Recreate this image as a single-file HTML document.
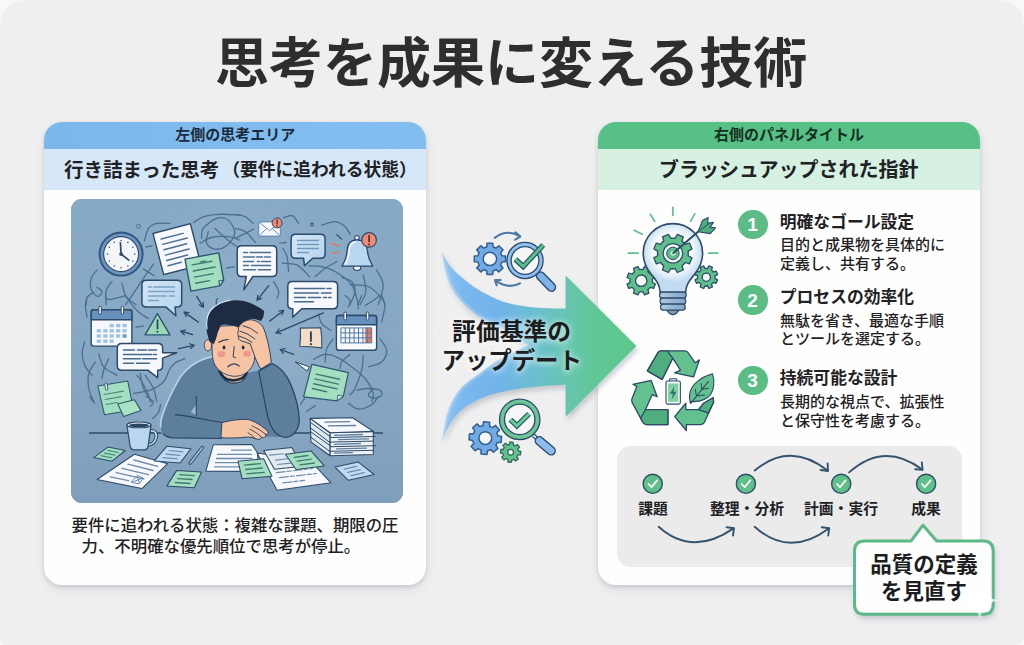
<!DOCTYPE html>
<html lang="ja">
<head>
<meta charset="utf-8">
<title>思考を成果に変える技術</title>
<style>
*{margin:0;padding:0;box-sizing:border-box}
html,body{width:1024px;height:645px;overflow:hidden;background:#f9f9fa;font-family:"Liberation Sans",sans-serif}
#stage{position:absolute;left:0;top:0;width:1024px;height:645px;background:#efeff0;border-radius:24px 24px 10px 6px;overflow:hidden}
.panel{position:absolute;top:122px;height:463px;width:382px;background:#fefefe;border-radius:18px;box-shadow:0 2px 4px rgba(60,70,90,.17),1px 5px 11px rgba(60,70,90,.08)}
.panel .clip{position:absolute;inset:0;border-radius:18px;overflow:hidden}
.band1{position:absolute;left:0;top:0;width:100%;height:27px}
.band2{position:absolute;left:0;top:27px;width:100%;height:41px}
#pl{left:44.3px} #pr{left:598px}
#pl .band1{background:linear-gradient(90deg,#7cb7ec,#81bcee 55%,#83bdef)}
#pl .band2{background:#d6e8f8}
#pr .band1{background:#57c086}
#pr .band2{background:#d6f1e1}
#illus{position:absolute;left:70.5px;top:198.5px;width:332px;height:304px;border-radius:11px;overflow:hidden;background:#86a3bf}
#flow{position:absolute;left:617px;top:446px;width:344.5px;height:120.5px;border-radius:14px;background:#ebebec}
.num{position:absolute;left:737.95px;width:29.7px;height:29.7px;border-radius:50%;background:#5bbd85}
svg.full{position:absolute;left:0;top:0;width:1024px;height:645px;overflow:visible}
.t{position:absolute;color:#1f2125;white-space:nowrap;line-height:1;overflow:visible;height:1.1em;pointer-events:none;font-family:"Liberation Sans","Noto Sans CJK JP",sans-serif}
</style>
</head>
<body>
<div id="stage">
<div class="panel" id="pl"><div class="clip"><div class="band1"></div><div class="band2"></div></div></div>
<div class="panel" id="pr"><div class="clip"><div class="band1"></div><div class="band2"></div></div></div>
<div id="illus">
<svg width="332" height="304" viewBox="70.5 198.5 332 304" style="display:block">
<defs>
<linearGradient id="lbg" x1="0" y1="0" x2="0" y2="1"><stop offset="0" stop-color="#87aac6"/><stop offset=".55" stop-color="#86a7c3"/><stop offset="1" stop-color="#7f9ebb"/></linearGradient>
<radialGradient id="lglow" cx="236" cy="340" r="150" gradientUnits="userSpaceOnUse"><stop offset="0" stop-color="#98b6d1" stop-opacity=".55"/><stop offset="1" stop-color="#98b6d1" stop-opacity="0"/></radialGradient>
<linearGradient id="lbub" x1="0" y1="0" x2="1" y2="1"><stop offset="0" stop-color="#d3e6f6"/><stop offset="1" stop-color="#b4d3ee"/></linearGradient>
<marker id="ah" viewBox="0 0 10 10" refX="8.5" refY="5" markerWidth="6.5" markerHeight="6.5" orient="auto" markerUnits="userSpaceOnUse"><path d="M2 1.2L8.5 5L2 8.8" fill="none" stroke="#2c4a69" stroke-width="1.9" stroke-linecap="round" stroke-linejoin="round"/></marker>
</defs>
<rect x="70" y="198" width="333" height="305" fill="url(#lbg)"/>
<rect x="70" y="198" width="333" height="305" fill="url(#lglow)"/>
<g fill="none" stroke="#3f6386" stroke-width="1.3" stroke-linecap="round" opacity=".82">
<path d="M143.9 240.3C144.6 238.2 145.9 230.8 148.0 227.9C150.1 225.0 152.7 223.7 156.3 222.9C159.9 222.1 167.4 222.9 169.6 222.9"/>
<path d="M192.8 222.1C194.5 221.1 198.4 217.7 202.8 216.3C207.2 214.9 213.3 214.1 219.4 213.8C225.5 213.5 236.0 214.5 239.3 214.6"/>
<path d="M199.5 242.8C201.4 241.8 206.4 238.1 211.1 237.0C215.8 235.9 223.0 235.8 227.7 236.2C232.4 236.6 237.4 238.9 239.3 239.5"/>
<path d="M207.8 231.2C207.5 233.1 205.0 239.9 206.1 242.8C207.2 245.7 211.1 248.2 214.4 248.6C217.7 249.0 222.7 247.9 226.0 245.3C229.3 242.7 234.0 237.2 234.3 232.9C234.6 228.6 230.7 222.1 227.7 219.6C224.7 217.1 220.2 216.5 216.1 217.9C211.9 219.3 205.3 224.6 202.8 227.9C200.3 231.2 201.4 236.2 201.1 237.8"/>
<path d="M214.4 227.9C216.9 230.1 225.2 237.9 229.4 241.2C233.6 244.5 237.7 246.7 239.3 247.8"/>
<path d="M96.6 269.4C95.6 270.8 91.8 274.4 90.8 277.7C89.8 281.0 89.7 286.3 90.8 289.3C91.9 292.3 95.6 295.6 97.4 295.9C99.2 296.2 101.6 292.5 101.5 291.0C101.4 289.5 97.4 287.5 96.6 286.8"/>
<path d="M111.5 281.0C110.5 282.5 106.7 286.2 105.7 290.1C104.7 294.0 105.7 301.9 105.7 304.2"/>
<path d="M121.5 282.7C122.2 284.9 123.2 292.3 125.6 295.9C127.9 299.5 133.9 302.8 135.6 304.2"/>
<path d="M153.0 263.6C151.3 266.0 146.9 272.0 143.0 277.7C139.1 283.4 132.8 293.2 129.8 297.6C126.8 302.0 125.6 303.1 124.8 304.2"/>
<path d="M143.0 268.6C144.8 269.7 152.0 274.1 153.8 275.2"/>
<path d="M85.8 304.2C85.9 303.0 85.4 298.9 86.6 296.8C87.8 294.7 92.1 292.6 93.2 291.8"/>
<path d="M145.5 246.5C146.5 246.3 150.7 245.5 151.7 245.3"/>
<path d="M226.0 267.7C227.3 267.4 232.7 266.4 234.0 266.1"/>
<path d="M235.0 213.8C236.7 214.2 242.1 214.8 245.0 216.3C247.9 217.8 251.2 221.8 252.4 222.9"/>
<path d="M235.0 227.9C236.7 228.4 241.7 228.8 245.0 231.2C248.3 233.5 253.2 240.2 254.9 242.0"/>
<path d="M235.0 237.8C236.4 237.1 240.2 235.2 243.3 233.7C246.4 232.2 251.6 229.5 253.3 228.7"/>
<path d="M283.1 217.1C284.6 216.8 289.8 214.4 292.3 215.4C294.8 216.4 297.1 221.7 298.1 222.9"/>
<path d="M321.3 224.6C323.5 224.0 330.7 220.9 334.6 221.2C338.5 221.5 342.1 224.1 344.6 226.2C347.1 228.3 348.7 232.4 349.5 233.7"/>
<path d="M282.3 247.8C283.0 249.2 285.5 252.2 286.5 256.1C287.5 260.0 287.8 268.5 288.1 271.0"/>
<path d="M281.5 262.7C284.0 263.0 291.8 262.2 296.4 264.4C301.0 266.6 306.8 274.1 308.9 276.0"/>
<path d="M314.7 276.0C316.4 274.6 321.0 270.2 324.6 267.7C328.2 265.2 334.4 262.2 336.3 261.1"/>
<path d="M308.0 265.2C310.2 265.4 316.9 265.1 321.3 266.1C325.7 267.1 329.6 268.0 334.6 271.0C339.6 274.0 347.3 278.8 351.2 284.3C355.1 289.8 356.7 300.9 357.8 304.2"/>
<path d="M376.1 269.4C377.2 271.9 382.4 278.5 382.7 284.3C383.0 290.1 378.6 300.9 377.8 304.2"/>
<path d="M362.8 274.4C363.2 277.2 365.9 286.0 365.3 291.0C364.8 296.0 360.5 302.0 359.5 304.2"/>
<path d="M341.2 276.9C342.9 277.6 349.0 278.6 351.2 281.0C353.4 283.4 354.8 287.1 354.5 291.0C354.2 294.9 350.3 302.0 349.5 304.2"/>
<path d="M349.5 284.3C352.6 284.6 362.5 283.8 367.8 286.0C373.1 288.2 378.3 294.6 381.1 297.6C383.9 300.6 383.8 303.1 384.4 304.2"/>
<path d="M273.2 281.0C274.0 282.7 277.6 288.2 278.2 291.0C278.8 293.8 276.8 296.5 276.5 297.6"/>
<path d="M279.0 242.8C280.1 242.7 284.5 242.1 285.6 242.0"/>
<path d="M86.6 296.7C86.3 298.1 84.9 301.7 84.9 305.0C84.9 308.3 86.3 314.7 86.6 316.6"/>
<path d="M124.8 295.0C126.7 297.5 132.5 306.0 136.4 309.9C140.3 313.8 146.1 316.8 148.0 318.2"/>
<path d="M105.0 296.0C105.5 296.5 104.8 299.1 108.0 299.0C111.2 298.9 121.3 296.1 124.0 295.5"/>
<path d="M135.6 326.5C136.8 326.4 141.8 325.8 143.0 325.7"/>
<path d="M84.1 341.5C83.7 343.4 81.5 349.0 81.6 353.1C81.7 357.2 83.2 362.8 84.9 366.4C86.6 370.0 90.5 373.3 91.6 374.7"/>
<path d="M98.2 353.1C99.0 355.3 100.2 362.8 103.2 366.4C106.2 370.0 114.3 373.3 116.5 374.7"/>
<path d="M94.9 361.4C93.8 363.3 89.4 368.6 88.3 373.0C87.2 377.4 87.5 383.3 88.3 388.0C89.1 392.7 92.4 399.0 93.2 401.2"/>
<path d="M108.2 358.1C107.4 360.0 104.3 366.4 103.2 369.7C102.1 373.0 101.8 376.6 101.5 378.0"/>
<path d="M139.7 373.0C140.2 375.5 141.1 383.3 143.0 388.0C144.9 392.7 149.9 399.0 151.3 401.2"/>
<path d="M136.4 374.7C137.2 375.8 139.5 378.0 141.4 381.3C143.3 384.6 146.6 391.3 148.0 394.6C149.4 397.9 149.4 400.1 149.7 401.2"/>
<path d="M133.1 392.9C135.9 392.3 144.7 391.5 149.7 389.6C154.7 387.7 159.7 384.9 163.0 381.3C166.3 377.7 167.4 371.3 169.6 368.0C171.8 364.7 173.7 363.0 176.2 361.4C178.7 359.8 183.1 358.7 184.5 358.1"/>
<path d="M156.3 401.2C155.8 399.0 154.9 392.4 153.0 388.0C151.1 383.6 146.1 376.9 144.7 374.7"/>
<path d="M344.6 295.0C345.4 295.8 348.9 298.1 349.5 300.0C350.1 301.9 348.2 305.5 347.9 306.6"/>
<path d="M361.2 295.0C360.6 296.4 358.4 301.1 357.8 303.3C357.2 305.5 357.8 307.5 357.8 308.3"/>
<path d="M381.1 295.0C381.7 296.7 384.4 300.6 384.4 305.0C384.4 309.4 381.7 318.8 381.1 321.6"/>
<path d="M364.5 305.0C365.9 304.2 370.3 301.7 372.8 300.0C375.3 298.3 378.3 295.8 379.4 295.0"/>
<path d="M318.0 313.3C318.6 314.9 319.2 320.4 321.3 323.2C323.4 326.0 329.0 328.8 330.5 329.9"/>
<path d="M332.9 338.2C331.8 339.9 327.7 344.2 326.3 348.1C324.9 352.0 324.9 359.2 324.6 361.4"/>
<path d="M313.0 358.9C314.9 358.1 320.5 354.2 324.6 353.9C328.8 353.6 333.5 355.2 337.9 357.3C342.3 359.4 346.8 362.9 351.2 366.4C355.6 369.8 360.9 373.6 364.5 378.0C368.1 382.4 371.7 389.0 372.8 392.9C373.9 396.8 371.4 399.8 371.1 401.2"/>
<path d="M379.4 338.2C380.5 340.1 385.8 345.9 386.1 349.8C386.4 353.7 384.2 358.6 381.1 361.4C378.1 364.2 370.0 365.6 367.8 366.4"/>
<path d="M349.5 353.9C348.1 355.1 342.8 359.0 341.2 361.4C339.6 363.8 339.9 366.9 339.6 368.0"/>
<path d="M362.8 354.8C362.5 357.3 362.6 364.2 361.2 369.7C359.8 375.2 356.4 383.9 354.5 388.0C352.6 392.1 350.3 393.5 349.5 394.6"/>
<path d="M356.2 389.6C358.1 389.3 363.9 388.0 367.8 388.0C371.7 388.0 377.2 388.5 379.4 389.6C381.6 390.7 381.9 393.2 381.1 394.6C380.3 396.0 376.6 397.9 374.4 397.9C372.2 397.9 368.1 396.2 367.8 394.6C367.5 393.0 372.0 389.1 372.8 388.0"/>
<path d="M89.1 396.0C89.9 397.1 93.3 401.5 94.1 402.6"/>
<path d="M145.5 396.0C146.8 396.8 152.3 399.3 153.0 401.0C153.7 402.7 150.2 405.2 149.7 406.0"/>
<path d="M306.4 410.9C307.8 409.9 313.3 406.1 314.7 405.1"/>
<path d="M347.9 402.6C349.5 403.6 353.9 408.2 357.8 408.5C361.7 408.8 367.8 406.4 371.1 404.3C374.4 402.2 376.7 397.4 377.8 396.0"/>
<path d="M160.0 404.0C159.7 405.3 159.3 409.7 158.0 412.0C156.7 414.3 153.0 417.0 152.0 418.0"/>
<path d="M300.0 404.0C300.7 403.0 303.3 399.0 304.0 398.0"/>
</g>
<circle cx="138" cy="225.7" r="2" fill="none" stroke="#4f7497" stroke-width="1"/>
<circle cx="311.5" cy="224" r="1.5" fill="none" stroke="#2c4a69" stroke-width="1"/>
<circle cx="120.6" cy="253.6" r="22.5" fill="#2f5480"/>
<circle cx="120.6" cy="253.6" r="20.6" fill="#6f96bd"/>
<circle cx="120.6" cy="253.6" r="18" fill="#2e4d70"/>
<circle cx="120.6" cy="253.6" r="16.9" fill="#f3f5f8"/>
<circle cx="120.6" cy="240.0" r=".75" fill="#2c4a69"/>
<circle cx="127.4" cy="241.8" r=".75" fill="#2c4a69"/>
<circle cx="132.4" cy="246.8" r=".75" fill="#2c4a69"/>
<circle cx="134.2" cy="253.6" r=".75" fill="#2c4a69"/>
<circle cx="132.4" cy="260.4" r=".75" fill="#2c4a69"/>
<circle cx="127.4" cy="265.4" r=".75" fill="#2c4a69"/>
<circle cx="120.6" cy="267.2" r=".75" fill="#2c4a69"/>
<circle cx="113.8" cy="265.4" r=".75" fill="#2c4a69"/>
<circle cx="108.8" cy="260.4" r=".75" fill="#2c4a69"/>
<circle cx="107.0" cy="253.6" r=".75" fill="#2c4a69"/>
<circle cx="108.8" cy="246.8" r=".75" fill="#2c4a69"/>
<circle cx="113.8" cy="241.8" r=".75" fill="#2c4a69"/>
<path d="M120.6 253.6L119.9 242.3M120.6 253.6L128.3 259.6" stroke="#2c4a69" stroke-width="1.7" stroke-linecap="round" fill="none"/>
<circle cx="120.6" cy="253.6" r="1.9" fill="#2c4a69"/>
<g transform="translate(152.5 232.9) rotate(-14.5) skewX(0.0)"><rect width="38.6" height="42.6" fill="#f6f8fb" stroke="#2c4a69" stroke-width="1.4" stroke-linejoin="round"/><g stroke="#4d7090" stroke-width="1.5" stroke-linecap="round"><path d="M6.5 7.5H29.1"/><path d="M6.5 13.0H32.1"/><path d="M6.5 18.5H30.1"/><path d="M6.5 24.1H31.1"/><path d="M6.5 29.6H28.1"/><path d="M6.5 35.1H20.1"/></g></g>
<g transform="translate(184.5 258.6) rotate(-10.4) skewX(0.0)"><path d="M0 0H34.3V27.6L29.3 32.6H0Z" fill="#a4dec0" stroke="#2f5671" stroke-width="1.4" stroke-linejoin="round"/><path d="M34.3 27.6L29.3 27.6L29.3 32.6Z" fill="#c4e8d2" stroke="#2f5671" stroke-width="1.12" stroke-linejoin="round"/><g stroke="#3d7a72" stroke-width="1.4" stroke-linecap="round"><path d="M6.0 7.0H26.3"/><path d="M6.0 13.2H28.3"/><path d="M6.0 19.4H25.3"/><path d="M6.0 25.6H20.3"/></g><path d="M14.5 5.5H20" stroke="#3d7a72" stroke-width="1.4" stroke-linecap="round"/></g>
<path d="M145.9 279.7H176.7Q181.2 279.7 181.2 284.2V302.1Q181.2 306.6 176.7 306.6H174.6L175.4 315.3L165.5 306.6H145.9Q141.4 306.6 141.4 302.1V284.2Q141.4 279.7 145.9 279.7Z" fill="url(#lbub)" stroke="#2c4a69" stroke-width="1.5" stroke-linejoin="round"/>
<g stroke="#7ea3c6" stroke-width="1.3" stroke-linecap="round"><path d="M148.0 286.5H151.0"/><path d="M153.0 286.5H174.0"/><path d="M148.0 291.0H174.0"/><path d="M148.0 295.5H166.0"/><path d="M169.0 295.5H174.0"/><path d="M148.0 300.0H158.0"/></g>
<rect x="258.2" y="221.4" width="21.6" height="14.2" rx="1" fill="#f6f8fb" stroke="#5b84ad" stroke-width="1"/>
<path d="M258.6 221.8L269 230.2L279.4 221.8M258.6 235.2L266.2 228M279.4 235.2L271.8 228" fill="none" stroke="#5b84ad" stroke-width=".9"/>
<circle cx="276.6" cy="222.4" r="5" fill="#ee8b78" stroke="#2c4a69" stroke-width="1"/>
<path d="M276.6 219.3V223.4" stroke="#5a2b28" stroke-width="1.3" stroke-linecap="round"/><circle cx="276.6" cy="225.4" r=".75" fill="#5a2b28"/>
<path d="M295.1 233.7H320.1Q324.6 233.7 324.6 238.2V253.3Q324.6 257.8 320.1 257.8H312.2L303.9 265.2L303.1 257.8H295.1Q290.6 257.8 290.6 253.3V238.2Q290.6 233.7 295.1 233.7Z" fill="url(#lbub)" stroke="#2c4a69" stroke-width="1.5" stroke-linejoin="round"/>
<g stroke="#7198be" stroke-width="1.3" stroke-linecap="round"><path d="M297.0 240.0H298.5"/><path d="M300.0 240.0H318.0"/><path d="M297.0 244.0H318.0"/><path d="M297.0 248.0H318.0"/><path d="M297.0 252.0H308.0"/></g>
<path d="M241.2 245.3H271.7Q276.2 245.3 276.2 249.8V271.5Q276.2 276.0 271.7 276.0H252.4L243.3 289.3L245.8 276.0H241.2Q236.7 276.0 236.7 271.5V249.8Q236.7 245.3 241.2 245.3Z" fill="#f6f8fb" stroke="#2c4a69" stroke-width="1.5" stroke-linejoin="round"/>
<g stroke="#4e7294" stroke-width="1.5" stroke-linecap="round"><path d="M243.0 252.0H247.0"/><path d="M249.5 252.0H270.0"/><path d="M243.0 256.5H254.0"/><path d="M256.0 256.5H262.0"/><path d="M264.0 256.5H270.0"/><path d="M243.0 261.0H253.0"/><path d="M257.0 261.0H259.0"/><path d="M261.0 261.0H270.0"/><path d="M243.0 265.0H248.0"/><path d="M251.0 265.0H270.0"/><path d="M243.0 269.3H255.0"/><path d="M258.0 269.3H270.0"/></g>
<circle cx="356.4" cy="237.3" r="2.3" fill="#e9f2fa" stroke="#2c4a69" stroke-width="1.1"/>
<ellipse cx="356.6" cy="267.2" rx="3.6" ry="2.7" fill="#f3f7fb" stroke="#2c4a69" stroke-width="1.1"/>
<path d="M356.4 239.3C349.6 239.3 346.9 244.4 346.6 250.4C346.3 256.4 344.8 260.4 341.5 265.6H372.3C369 260.4 367.4 256.4 367 250.4C366.6 244.4 363.4 239.3 356.4 239.3Z" fill="#b9d7f0" stroke="#2c4a69" stroke-width="1.3" stroke-linejoin="round"/>
<path d="M355 241.2C350.4 242 348.8 246 348.5 250.6C348.2 256 347.2 259.6 344.8 263.6" fill="none" stroke="#f2f8fd" stroke-width="1.5" stroke-linecap="round"/>
<circle cx="368.6" cy="239.4" r="7.3" fill="#ee8b78" stroke="#2c4a69" stroke-width="1.2"/>
<path d="M368.6 235.1V241.2" stroke="#4a2a30" stroke-width="1.6" stroke-linecap="round"/><circle cx="368.6" cy="244" r=".95" fill="#4a2a30"/>
<path d="M330.5 243.2L337.9 245.3M332.1 252.8L337.9 252" stroke="#e07b5c" stroke-width="1.6" stroke-linecap="round"/>
<path d="M336.3 234.2L341.2 238.7" stroke="#3a5878" stroke-width="1.2" stroke-linecap="round"/>
<path d="M291.8 281.0H332.6Q337.1 281.0 337.1 285.5V303.8Q337.1 308.3 332.6 308.3H301.4L292.3 316.6L292.3 308.3H291.8Q287.3 308.3 287.3 303.8V285.5Q287.3 281.0 291.8 281.0Z" fill="#f6f8fb" stroke="#2c4a69" stroke-width="1.5" stroke-linejoin="round"/>
<g stroke="#456a8c" stroke-width="1.6" stroke-linecap="round"><path d="M294.0 288.0H324.0"/><path d="M326.5 288.0H330.5"/><path d="M294.0 292.5H318.0"/><path d="M321.0 292.5H330.5"/><path d="M294.0 297.0H305.0"/><path d="M308.0 297.0H320.0"/><path d="M323.0 297.0H326.0"/><path d="M328.0 297.0H330.5"/><path d="M294.0 301.2H313.0"/></g>
<g stroke="#2c4a69" stroke-width="1.3" stroke-linecap="round" fill="none">
<path d="M268.2 285.1L256.6 299.6" marker-end="url(#ah)"/>
<path d="M196.2 295.8L202.8 306.6" marker-end="url(#ah)"/>
<path d="M197.8 321.6L183.7 311.6" marker-end="url(#ah)"/>
<path d="M192.0 334.0L180.4 330.7" marker-end="url(#ah)"/>
<path d="M177.9 348.1L193.7 344.8" marker-end="url(#ah)"/>
<path d="M269.0 320.7L283.1 309.9" marker-end="url(#ah)"/>
<path d="M323.0 312.4L275.7 332.4" marker-end="url(#ah)"/>
<path d="M293.1 353.9L279.8 349.0" marker-end="url(#ah)"/>
</g>
<rect x="90.7" y="309.3" width="40.7" height="36.3" rx="2.5" fill="#f6f8fb" stroke="#2c4a69" stroke-width="1.4"/><path d="M90.7 319.2V311.8Q90.7 309.3 93.2 309.3H128.9Q131.4 309.3 131.4 311.8V319.2Z" fill="#6690bd" stroke="#2c4a69" stroke-width="1.4"/><rect x="98.3" y="305.8" width="2.6" height="8" rx="1.3" fill="#f3f6fa" stroke="#2c4a69" stroke-width="1"/><rect x="120.6" y="305.8" width="2.6" height="8" rx="1.3" fill="#f3f6fa" stroke="#2c4a69" stroke-width="1"/><rect x="109.1" y="323.4" width="4.2" height="3.4" fill="#9fc3e3"/><rect x="115.6" y="323.4" width="4.2" height="3.4" fill="#9fc3e3"/><rect x="122.0" y="323.4" width="4.2" height="3.4" fill="#9fc3e3"/><rect x="96.2" y="328.6" width="4.2" height="3.4" fill="#9fc3e3"/><rect x="102.7" y="328.6" width="4.2" height="3.4" fill="#9fc3e3"/><rect x="109.1" y="328.6" width="4.2" height="3.4" fill="#9fc3e3"/><rect x="115.6" y="328.6" width="4.2" height="3.4" fill="#9fc3e3"/><rect x="122.0" y="328.6" width="4.2" height="3.4" fill="#9fc3e3"/><rect x="96.2" y="333.8" width="4.2" height="3.4" fill="#9fc3e3"/><rect x="102.7" y="333.8" width="4.2" height="3.4" fill="#9fc3e3"/><rect x="109.1" y="333.8" width="4.2" height="3.4" fill="#9fc3e3"/><rect x="115.6" y="333.8" width="4.2" height="3.4" fill="#9fc3e3"/><rect x="122.0" y="333.8" width="4.2" height="3.4" fill="#6f9bc6"/><rect x="96.2" y="339.0" width="4.2" height="3.4" fill="#9fc3e3"/><rect x="102.7" y="339.0" width="4.2" height="3.4" fill="#9fc3e3"/><rect x="109.1" y="339.0" width="4.2" height="3.4" fill="#9fc3e3"/>
<path d="M156.9 313.2L169.4 334.4H144.6Z" fill="#98d8b4" stroke="#2f5671" stroke-width="1.4" stroke-linejoin="round"/>
<path d="M157 319.6V328" stroke="#24445f" stroke-width="1.7" stroke-linecap="round"/><circle cx="157" cy="331.2" r="1" fill="#24445f"/>
<path d="M121.3 343.1H157.6Q162.1 343.1 162.1 347.6V352.2L176.2 352.3L162.1 357.6V365.2Q162.1 369.7 157.6 369.7H157.2L157.2 377.2L147.2 369.7H121.3Q116.8 369.7 116.8 365.2V347.6Q116.8 343.1 121.3 343.1Z" fill="#f6f8fb" stroke="#2c4a69" stroke-width="1.5" stroke-linejoin="round"/>
<g stroke="#456a8c" stroke-width="1.5" stroke-linecap="round"><path d="M123.0 349.5H134.0"/><path d="M137.0 349.5H146.0"/><path d="M148.0 349.5H156.0"/><path d="M123.0 354.0H151.0"/><path d="M153.0 354.0H156.0"/><path d="M123.0 358.3H140.0"/><path d="M142.0 358.3H156.0"/><path d="M123.0 362.8H133.0"/><path d="M136.0 362.8H149.0"/></g>
<path d="M97.4 385.5L127.3 380.5L133 409.3L104 414.3Z" fill="#a4dec0" stroke="#2f5671" stroke-width="1.1" stroke-linejoin="round"/>
<g stroke="#4a8c7c" stroke-width="1.2" stroke-linecap="round"><path d="M103.5 394L123 390.6M104.6 399L121 396.2M105.6 404L117 402"/></g>
<rect x="104.6" y="382.6" width="2.4" height="7.2" rx="1.2" transform="rotate(-10 105.8 386)" fill="#f3f6fa" stroke="#2f5671" stroke-width=".9"/>
<path d="M117.3 403.5L133.9 399.3L140.6 410.1L123.1 415.9Z" fill="#a9e1c4" stroke="#2f5671" stroke-width="1.1" stroke-linejoin="round"/>
<rect x="335.9" y="315.0" width="40.2" height="34.8" rx="2.5" fill="#f6f8fb" stroke="#2c4a69" stroke-width="1.4"/><path d="M335.9 324.2V317.5Q335.9 315.0 338.4 315.0H373.6Q376.1 315.0 376.1 317.5V324.2Z" fill="#6690bd" stroke="#2c4a69" stroke-width="1.4"/><rect x="343.4" y="311.5" width="2.6" height="8" rx="1.3" fill="#f3f6fa" stroke="#2c4a69" stroke-width="1"/><rect x="365.8" y="311.5" width="2.6" height="8" rx="1.3" fill="#f3f6fa" stroke="#2c4a69" stroke-width="1"/><rect x="340.4" y="327.4" width="30.7" height="15" fill="#f6f8fb"/><rect x="364.6" y="327.2" width="6.6" height="15.2" fill="#e8755f"/><g stroke="#4f7aa6" stroke-width="1" fill="none"><path d="M340.4 327.4V342.4"/><path d="M344.8 327.4V342.4"/><path d="M349.2 327.4V342.4"/><path d="M353.6 327.4V342.4"/><path d="M358.0 327.4V342.4"/><path d="M362.4 327.4V342.4"/><path d="M366.8 327.4V342.4"/><path d="M371.2 327.4V342.4"/><path d="M340.4 327.4H371.2"/><path d="M340.4 332.4H371.2"/><path d="M340.4 337.4H371.2"/><path d="M340.4 342.4H371.2"/></g>
<path d="M299.8 327.6L320.2 327.2Q321.6 337 321.3 347.4Q310 346.2 299.2 345.8Q300.6 336 299.8 327.6Z" fill="#f3ddc6" stroke="#2c4a69" stroke-width="1.1" stroke-linejoin="round"/>
<path d="M310.4 331.6V340.4" stroke="#24405c" stroke-width="1.9" stroke-linecap="round"/><circle cx="310.4" cy="343.7" r="1.1" fill="#24405c"/>
<path d="M294.8 361.4L309 366.4L306.6 370.6Z" fill="#f6f8fb" stroke="#2c4a69" stroke-width="1" stroke-linejoin="round"/>
<path d="M311.4 363.9L347.9 372.2L342.8 395.8L336.4 400.4L303.1 396.3Z" fill="#a4dec0" stroke="#2f5671" stroke-width="1.2" stroke-linejoin="round"/>
<path d="M342.8 395.8L337.6 394.4L336.4 400.4Z" fill="#d6efe0" stroke="#2f5671" stroke-width=".9" stroke-linejoin="round"/>
<g stroke="#3d7a72" stroke-width="1.4" stroke-linecap="round"><path d="M315.6 373.6L339 378.8M314.4 378.4L337.8 383.6M313.2 383.2L336.6 388.4M312 388L326 391.2"/></g>
<path d="M89 432.5H382" stroke="#2c4a69" stroke-width="1.3" stroke-linecap="round"/>
<g stroke="#2c4a69" stroke-width="1.1" stroke-linejoin="round">
<path d="M309.7 417.9L329.6 432.2V455.2L310.4 441.4Z" fill="#dfe7ef"/>
<path d="M329.6 432.2L372.8 430.9V454L329.6 455.2Z" fill="#eef2f6"/>
<path d="M309.7 417.9L352 417.2L372.8 430.9L329.6 432.2Z" fill="#f6f8fb"/>
</g>
<g stroke="#2c4a69" stroke-width="1" fill="none" stroke-linecap="round">
<path d="M330.8 437.0L374.6 436.0"/>
<path d="M310.6 422.4L330.8 437.0"/>
<path d="M328.8 441.6L372.6 440.6"/>
<path d="M309.6 427.0L328.8 441.6"/>
<path d="M331.0 446.2L374.8 445.2"/>
<path d="M310.7 431.6L331.0 446.2"/>
<path d="M329.0 450.8L372.8 449.8"/>
<path d="M309.7 436.2L329.0 450.8"/>
</g>
<g stroke="#5d7f9f" stroke-width="1.3" stroke-linecap="round"><path d="M324.5 421.6L349 421.2M328 425.4L355 425M334 434.8L362 434M338 439.2L368 438.4M334 443.8L360 443M336 448.4L366 447.6M334 452.6L352 452.2"/></g>
<path d="M211.6 355.9C199.5 358.4 187.9 365.5 179.8 376.4C172.8 388 165.4 403 161.2 417C159.4 424 159.6 430 162.6 434.6L286 436.4C296 431 299.4 420 298.4 414C296.6 396 291 380 284.5 372.5C280 367 276 364.2 271.5 362.4L258.4 370.2L245.5 372.4L219 371Z" fill="#5b7f9d"/>
<path d="M212.2 356.2C199.5 358.6 187.9 365.7 179.8 376.6C172.8 388.2 165.4 403 161.2 417C159.6 423 159.4 428.6 162.4 433" fill="none" stroke="#b9d1e8" stroke-width="1.7" stroke-linecap="round"/>
<path d="M190.2 411.5L196 404V415Z" fill="#9db8d3"/>
<path d="M195.8 396V415" stroke="#2a4464" stroke-width="1.1" stroke-linecap="round"/>
<path d="M258.2 370.4L272 363.2C278 365.6 285.4 372.6 290.4 384.4C295.4 396.6 298.8 410.6 298.8 419.6C298.6 428.8 293 436.2 285.6 436.8C276.4 436.8 270.6 428.6 267.4 416.6C264.2 402.6 261.2 384.6 258.2 370.4Z" fill="#5b7f9d" stroke="#2a4464" stroke-width="1.2" stroke-linejoin="round"/>
<path d="M221 370Q222.6 378.6 227.6 381Q233.5 383.6 240.2 380.8Q244.8 378.2 246 370Z" fill="#f6c3a3"/>
<path d="M219 370.6Q221.8 377.6 228.4 379.4Q235.6 380.8 241.6 377.6Q245.2 375.4 246.2 371.6" fill="none" stroke="#1d2c43" stroke-width="2.6" stroke-linecap="round"/>
<path d="M222.2 377.4Q224.2 380.4 227.6 381.4Q233.5 384 240.2 381.2Q243.6 379.6 245.2 376.2" fill="none" stroke="#2a4464" stroke-width="1.1"/>
<ellipse cx="207.4" cy="344.8" rx="3.7" ry="5.6" fill="#f6c3a3" stroke="#2a4464" stroke-width=".9"/>
<path d="M212.6 326C211.4 338 211.2 352 212.4 358.6C214 368 222 374.2 232.6 375.8C243 376.4 251 370 253.6 361C255 352 254.6 336 254.2 324Z" fill="#f6c3a3" stroke="#2a4464" stroke-width=".9" stroke-linejoin="round"/>
<ellipse cx="220.8" cy="353.6" rx="4" ry="3.1" fill="#f0918b" opacity=".9"/>
<ellipse cx="246.6" cy="353.2" rx="3.8" ry="3" fill="#f0918b" opacity=".9"/>
<ellipse cx="223.5" cy="347" rx="1.35" ry="1.9" fill="#1d2c43"/>
<ellipse cx="242.7" cy="347" rx="1.35" ry="1.9" fill="#1d2c43"/>
<path d="M218.4 341.8Q222.6 339.2 227.6 339" fill="none" stroke="#1d2c43" stroke-width="1.2" stroke-linecap="round"/>
<path d="M233.7 346L232.6 356.3L235 357" fill="none" stroke="#2a4464" stroke-width="1" stroke-linecap="round" stroke-linejoin="round"/>
<path d="M227.4 366.2Q233 361 238.6 365.5" fill="none" stroke="#2a4464" stroke-width="1.3" stroke-linecap="round"/>
<path d="M213.4 343.4L209.4 341.6Q204.6 330 206 319.6Q209.6 307.4 220 302.4Q232 298 243.6 300.6Q255 303.6 263.6 310.4Q264.2 315.4 260.6 320.6Q254.8 318 249.6 318.4L238 327Q229.6 323.2 220.6 324.4Q217 331 215.8 337.4Z" fill="#1d2c43"/>
<path d="M206.6 328.4Q204.8 318 209.6 310.4Q216.4 301.8 229.6 299.8" fill="none" stroke="#e4edf6" stroke-width="1.1" stroke-linecap="round"/>
<path d="M215.6 303.6Q215 300 217 297.6" fill="none" stroke="#2c4a69" stroke-width="1" stroke-linecap="round"/>
<path d="M260.2 368.6L270.8 362C269.4 348 266 334.8 263 327.4C260.4 322.6 255.8 320 250.6 319.2C246 319.2 242 321.5 239.5 324.6C237.8 326.8 237.6 328.4 238.1 329.9C237 331.8 237 333.8 237.9 335.5C237.6 338.2 238.8 339.8 240.8 340.4L249.7 343.3C252.3 350.8 254.4 356.4 256 360.4C257.4 363.6 258.8 366.2 260.2 368.6Z" fill="#f6c3a3" stroke="#2a4464" stroke-width="1" stroke-linejoin="round"/>
<path d="M242.4 325.2Q250.6 326.8 257.2 332.8M239.4 330.6Q247.4 332.6 254.4 338.4M238.8 335.6Q245.6 337.6 251.6 341.8" fill="none" stroke="#2a4464" stroke-width="1" stroke-linecap="round"/>
<path d="M175 414.4C190 415.6 206 419.6 222.8 422.4L221 438L172 437.4C165 437 160.6 433.4 159.9 427.6Z" fill="#5b7f9d"/>
<path d="M175 414.4C190 415.6 206 419.6 222.8 422.4M221 438L172 437.4C167.6 437.2 164.4 435.6 162.6 433.2" fill="none" stroke="#2a4464" stroke-width="1.2" stroke-linecap="round"/>
<path d="M221.4 422C230 420 240 418.2 247.6 419C254 420.4 261 425 266.6 430.2C268.6 432.4 267.6 434.4 265 433.6C266 436.4 263.6 437.8 261 436.6C260.6 439 257.8 439.6 255 438.2C252 437 249 436.4 246 436.6C238 437.6 229 437.8 220.4 437.2Z" fill="#f6c3a3" stroke="#2a4464" stroke-width="1" stroke-linejoin="round"/>
<path d="M251.6 425.4Q258.6 428.2 265 433.6M249.4 428.6Q255.6 431.6 261 436.6M247.6 432.2Q251.6 434.6 255 438.2" fill="none" stroke="#2a4464" stroke-width=".9" stroke-linecap="round"/>
<path d="M150 430.4C155 429.6 156.6 433.6 155.6 437.4C154.4 441.6 151 444 148.2 444.4" fill="none" stroke="#2c4a69" stroke-width="3.6" stroke-linecap="round"/>
<path d="M150 430.4C155 429.6 156.6 433.6 155.6 437.4C154.4 441.6 151 444 148.2 444.4" fill="none" stroke="#b9d6ee" stroke-width="1.7" stroke-linecap="round"/>
<path d="M126.4 424.6L129.6 445.6Q130 449.2 134 449.4H143.4Q147.2 449.2 147.6 445.6L150.5 424.6Z" fill="#b9d6ee" stroke="#2c4a69" stroke-width="1.2" stroke-linejoin="round"/>
<ellipse cx="138.45" cy="424.4" rx="12.1" ry="2.9" fill="#e8f1f9" stroke="#2c4a69" stroke-width="1.1"/>
<ellipse cx="138.45" cy="424.9" rx="9.9" ry="1.9" fill="#2a4464"/>
<path d="M107.4 446.6L124.8 450.0L111.5 460.7L93.2 457.1Z" fill="#a4dec0" stroke="#2c4a69" stroke-width="1.05" stroke-linejoin="round"/>
<g stroke="#4a8c7c" stroke-width="1.2" stroke-linecap="round"><path d="M107.4 449.9L118.0 452.0"/><path d="M103.9 452.6L114.6 454.7"/><path d="M100.4 455.2L111.2 457.3"/></g>
<path d="M133.9 453.8L167.1 463.2L141.4 488.1L96.6 479.0Z" fill="#f6f8fb" stroke="#2c4a69" stroke-width="1.05" stroke-linejoin="round"/>
<g stroke="#6c8cab" stroke-width="1.3" stroke-linecap="round"><path d="M133.3 459.5L157.2 465.9"/><path d="M127.4 463.7L152.6 470.0"/><path d="M121.5 467.9L148.0 474.2"/><path d="M115.6 472.1L143.4 478.3"/><path d="M109.7 476.3L128.1 480.2"/></g>
<path d="M130.6 481.8L137 474.8L142.6 477.6L138.6 483.4ZM132 481.6L141 478M136.6 475.6L139 483" fill="none" stroke="#5b82aa" stroke-width=".9" stroke-linejoin="round"/>
<path d="M166.3 445.8L190.4 448.3L179.6 462.4L153.8 460.4Z" fill="#c0daf1" stroke="#2c4a69" stroke-width="1.05" stroke-linejoin="round"/>
<g stroke="#6c8cab" stroke-width="1.2" stroke-linecap="round"><path d="M168.6 450.0L182.3 451.3"/><path d="M165.5 453.6L179.5 454.9"/><path d="M162.5 457.2L176.7 458.4"/></g>
<path d="M189.6 462.6L201.8 447" stroke="#2c4a69" stroke-width="3.4" stroke-linecap="round"/>
<path d="M189.8 462.4L201.6 447.2" stroke="#a9c3dc" stroke-width="1.6" stroke-linecap="round"/>
<path d="M176.2 469.9L201.1 471.5L193.7 487.3L166.3 485.6Z" fill="#a4dec0" stroke="#2c4a69" stroke-width="1.05" stroke-linejoin="round"/>
<g stroke="#3d7a72" stroke-width="1.3" stroke-linecap="round"><path d="M179.3 474.2L193.6 475.1"/><path d="M177.0 478.1L191.6 479.0"/><path d="M174.7 482.0L189.7 483.0"/></g>
<path d="M212.8 444.3L251.4 444.1L256.8 452.0L258.6 470.9L205.3 470.7Z" fill="#f6f8fb" stroke="#2c4a69" stroke-width="1.05" stroke-linejoin="round"/>
<g stroke="#6c8cab" stroke-width="1.3" stroke-linecap="round"><path d="M231 449.6H251M217 453.8H251M216 458H251.6M215 462.2H238M214 466.4H239"/></g>
<path d="M256.6 452.6L310.0 460.5L330.5 482.3L276.5 489.8Z" fill="#f6f8fb" stroke="#2c4a69" stroke-width="1.05" stroke-linejoin="round"/>
<g stroke="#6c8cab" stroke-width="1.2" stroke-linecap="round" stroke-dasharray="9 2 4 2"><path d="M275.8 472.2L312 468M279 477.2L316 473M282.4 482.4L304 479.8"/></g>
<path d="M263.2 450.0L291.4 447.1L301.4 465.7L274.0 468.7Z" fill="#e1e9f1" stroke="#2c4a69" stroke-width="1.05" stroke-linejoin="round"/>
<g stroke="#6c8cab" stroke-width="1.1" stroke-linecap="round"><path d="M269 454.6L283 453.2M275 459.6L290 458M277 464L292 462.4"/></g>
<path d="M237.5 460.7L263.2 458.3L271.5 475.7L241.6 478.2Z" fill="#a4dec0" stroke="#2c4a69" stroke-width="1.05" stroke-linejoin="round"/>
<g stroke="#3d7a72" stroke-width="1.3" stroke-linecap="round"><path d="M243.9 464.6L259.9 463.1"/><path d="M245.1 469.0L261.8 467.5"/><path d="M246.3 473.3L263.7 471.8"/></g>
<path d="M284.8 453.8L310.5 450.4L323.8 465.4L295.6 469.0Z" fill="#a4dec0" stroke="#2c4a69" stroke-width="1.05" stroke-linejoin="round"/>
<g stroke="#3d7a72" stroke-width="1.3" stroke-linecap="round"><path d="M293.8 456.8L307.5 455.0"/><path d="M296.7 460.6L310.7 458.7"/><path d="M299.5 464.3L313.9 462.5"/></g>
<path d="M334.6 466.6L357.8 461.6L373.6 474.0L347.9 479.8Z" fill="#c0daf1" stroke="#2c4a69" stroke-width="1.05" stroke-linejoin="round"/>
<g stroke="#6c8cab" stroke-width="1.2" stroke-linecap="round"><path d="M343.6 468.7L356.0 465.9"/><path d="M347.1 471.9L359.8 469.1"/><path d="M350.6 475.2L363.6 472.2"/></g>
</svg>
</div>
<div id="flow"></div>
<svg class="full" viewBox="0 0 1024 645">
<defs>
<linearGradient id="ag" x1="441" y1="0" x2="636" y2="0" gradientUnits="userSpaceOnUse">
<stop offset="0" stop-color="#90c4f4"/><stop offset=".12" stop-color="#79b7ef"/><stop offset=".30" stop-color="#71b4ea"/><stop offset=".5" stop-color="#6ac0cc"/><stop offset=".66" stop-color="#66c5ae"/><stop offset=".8" stop-color="#60c796"/><stop offset="1" stop-color="#5bc88c"/></linearGradient>
<radialGradient id="aglow" cx="0" cy="0" r="1" gradientUnits="userSpaceOnUse" gradientTransform="translate(503 346) scale(86 40)">
<stop offset="0" stop-color="#fff" stop-opacity=".85"/><stop offset=".5" stop-color="#fff" stop-opacity=".6"/><stop offset="1" stop-color="#fff" stop-opacity="0"/></radialGradient>
<filter id="ashadow" x="-10%" y="-10%" width="125%" height="125%"><feGaussianBlur stdDeviation="2.5"/></filter>
<filter id="nblur" x="-10%" y="-10%" width="120%" height="120%"><feGaussianBlur stdDeviation="1.6"/></filter>
<filter id="tglow" x="-20%" y="-40%" width="140%" height="180%"><feGaussianBlur stdDeviation="3.2"/></filter>
</defs>
<path d="M441.6 251.6C443.1 254.1 447.0 262.0 450.5 266.4C454.0 270.8 457.9 274.0 462.5 277.9C467.1 281.8 472.6 286.1 478.0 289.5C483.4 292.9 489.8 296.1 495.1 298.5C500.4 300.9 504.6 302.2 510.0 303.6C515.4 305.0 521.4 306.0 527.6 306.8C533.8 307.6 540.7 307.9 547.0 308.2C553.3 308.5 562.5 308.4 565.6 308.5V275.4L636.4 346L565.6 417L565.6 384.8C562.9 384.9 557.3 384.9 549.4 385.6C541.5 386.3 528.5 387.2 518.1 388.9C507.7 390.6 496.0 392.8 486.9 396.0C477.8 399.2 469.4 404.0 463.4 408.4C457.4 412.8 454.4 417.0 450.9 422.5C447.3 428.0 443.6 438.4 442.1 441.6L442.1 441.6C442.8 437.4 444.3 423.7 446.3 416.3C448.3 408.9 451.2 402.7 454.1 397.5C457.1 392.3 459.4 389.3 464.0 385.0C468.6 380.7 476.3 375.6 481.9 371.5C487.5 367.4 492.3 363.7 497.5 360.5C502.7 357.3 508.1 355.0 513.1 352.5C518.1 350.0 525.0 346.6 527.4 345.4L527.4 344.6C525.5 343.5 520.8 340.5 516.3 337.8C511.8 335.1 506.3 331.5 500.6 328.4C494.9 325.3 487.9 323.0 481.9 319.1C475.9 315.2 469.7 310.0 464.7 305.0C459.7 300.0 455.2 294.7 452.0 289.0C448.8 283.3 447.0 277.2 445.3 271.0C443.6 264.8 442.2 254.8 441.6 251.6Z" fill="#5a6b7c" opacity=".28" transform="translate(2 4)" filter="url(#ashadow)"/>
<path d="M441.6 251.6C443.1 254.1 447.0 262.0 450.5 266.4C454.0 270.8 457.9 274.0 462.5 277.9C467.1 281.8 472.6 286.1 478.0 289.5C483.4 292.9 489.8 296.1 495.1 298.5C500.4 300.9 504.6 302.2 510.0 303.6C515.4 305.0 521.4 306.0 527.6 306.8C533.8 307.6 540.7 307.9 547.0 308.2C553.3 308.5 562.5 308.4 565.6 308.5V275.4L636.4 346L565.6 417L565.6 384.8C562.9 384.9 557.3 384.9 549.4 385.6C541.5 386.3 528.5 387.2 518.1 388.9C507.7 390.6 496.0 392.8 486.9 396.0C477.8 399.2 469.4 404.0 463.4 408.4C457.4 412.8 454.4 417.0 450.9 422.5C447.3 428.0 443.6 438.4 442.1 441.6L442.1 441.6C442.8 437.4 444.3 423.7 446.3 416.3C448.3 408.9 451.2 402.7 454.1 397.5C457.1 392.3 459.4 389.3 464.0 385.0C468.6 380.7 476.3 375.6 481.9 371.5C487.5 367.4 492.3 363.7 497.5 360.5C502.7 357.3 508.1 355.0 513.1 352.5C518.1 350.0 525.0 346.6 527.4 345.4L527.4 344.6C525.5 343.5 520.8 340.5 516.3 337.8C511.8 335.1 506.3 331.5 500.6 328.4C494.9 325.3 487.9 323.0 481.9 319.1C475.9 315.2 469.7 310.0 464.7 305.0C459.7 300.0 455.2 294.7 452.0 289.0C448.8 283.3 447.0 277.2 445.3 271.0C443.6 264.8 442.2 254.8 441.6 251.6Z" fill="url(#ag)"/>
<path d="M442.1 441.6C442.8 437.4 444.3 423.7 446.3 416.3C448.3 408.9 451.2 402.7 454.1 397.5C457.1 392.3 459.4 389.3 464.0 385.0C468.6 380.7 476.3 375.6 481.9 371.5C487.5 367.4 492.3 363.7 497.5 360.5C502.7 357.3 508.1 355.0 513.1 352.5C518.1 350.0 525.0 346.6 527.4 345.4L527.4 344.6C525.5 343.5 520.8 340.5 516.3 337.8C511.8 335.1 506.3 331.5 500.6 328.4C494.9 325.3 487.9 323.0 481.9 319.1C475.9 315.2 469.7 310.0 464.7 305.0C459.7 300.0 455.2 294.7 452.0 289.0C448.8 283.3 447.0 277.2 445.3 271.0C443.6 264.8 442.2 254.8 441.6 251.6Z" fill="none" stroke="#efeff0" stroke-width="3" opacity=".55" filter="url(#nblur)"/>
<g fill="none" stroke="#4a7aa3" stroke-width="2.1" stroke-linecap="round" stroke-linejoin="round">
<path d="M494.7 237.8Q506.5 228.6 519.6 236"/><path d="M515.4 232.4L520.3 236.6L515.2 239.6"/>
<path d="M520 283.3Q508.5 289.6 495.6 280.6"/><path d="M500.6 280L495.1 280.1L496.7 285.4"/>
</g>
<path d="M501.8 255.7L505.5 256.0L505.5 261.8L501.8 262.1A12.3 12.3 0 0 1 500.6 265.0L503.0 267.9L498.9 272.0L496.0 269.6A12.3 12.3 0 0 1 493.1 270.8L492.8 274.5L487.0 274.5L486.7 270.8A12.3 12.3 0 0 1 483.8 269.6L480.9 272.0L476.8 267.9L479.2 265.0A12.3 12.3 0 0 1 478.0 262.1L474.3 261.8L474.3 256.0L478.0 255.7A12.3 12.3 0 0 1 479.2 252.8L476.8 249.9L480.9 245.8L483.8 248.2A12.3 12.3 0 0 1 486.7 247.0L487.0 243.3L492.8 243.3L493.1 247.0A12.3 12.3 0 0 1 496.0 248.2L498.9 245.8L503.0 249.9L500.6 252.8A12.3 12.3 0 0 1 501.8 255.7Z" fill="#72aae6" stroke="#33608f" stroke-width="1.5" stroke-linejoin="round"/><circle cx="489.9" cy="258.9" r="6.7" fill="#f4f6f8" stroke="#33608f" stroke-width="1.5"/>
<path d="M535 270.4L540 275.4" stroke="#2c4a69" stroke-width="4.4"/>
<path d="M535 270.4L540 275.4" stroke="#dbe8f5" stroke-width="2"/>
<path d="M540.6 276L551.4 287.2" stroke="#2c4a69" stroke-width="9.6" stroke-linecap="round"/>
<path d="M540.6 276L551.4 287.2" stroke="#7fb2e8" stroke-width="6.8" stroke-linecap="round"/>
<circle cx="525" cy="260.5" r="18.1" fill="#8fbfef" stroke="#2c4a69" stroke-width="1.3"/>
<circle cx="525" cy="260.5" r="13.9" fill="#f4f6f8" stroke="#2c4a69" stroke-width="1.3"/>
<path d="M515.4 259.2L523.2 266.5L543.2 245" fill="none" stroke="#2c4a69" stroke-width="5.3" stroke-linecap="butt" stroke-linejoin="miter"/>
<path d="M515.4 259.2L523.2 266.5L543.2 245" fill="none" stroke="#55c583" stroke-width="3" stroke-linecap="butt" stroke-linejoin="miter"/>
<path d="M497.8 435.7L501.6 436.4L501.1 442.4L497.2 442.4A12.7 12.7 0 0 1 495.8 445.3L498.0 448.4L493.5 452.3L490.7 449.6A12.7 12.7 0 0 1 487.7 450.6L487.0 454.4L481.0 453.9L481.0 450.0A12.7 12.7 0 0 1 478.1 448.6L475.0 450.8L471.1 446.3L473.8 443.5A12.7 12.7 0 0 1 472.8 440.5L469.0 439.8L469.5 433.8L473.4 433.8A12.7 12.7 0 0 1 474.8 430.9L472.6 427.8L477.1 423.9L479.9 426.6A12.7 12.7 0 0 1 482.9 425.6L483.6 421.8L489.6 422.3L489.6 426.2A12.7 12.7 0 0 1 492.5 427.6L495.6 425.4L499.5 429.9L496.8 432.7A12.7 12.7 0 0 1 497.8 435.7Z" fill="#72aae6" stroke="#33608f" stroke-width="1.5" stroke-linejoin="round"/><circle cx="485.3" cy="438.1" r="6.4" fill="#f4f6f8" stroke="#33608f" stroke-width="1.5"/>
<path d="M518.3 451.0L520.8 451.5L520.4 454.9L517.9 454.9A7.8 7.8 0 0 1 516.9 456.8L518.3 458.9L515.6 461.1L513.8 459.3A7.8 7.8 0 0 1 511.8 459.9L511.3 462.4L507.9 462.0L507.9 459.5A7.8 7.8 0 0 1 506.0 458.5L503.9 459.9L501.7 457.2L503.5 455.4A7.8 7.8 0 0 1 502.9 453.4L500.4 452.9L500.8 449.5L503.3 449.5A7.8 7.8 0 0 1 504.3 447.6L502.9 445.5L505.6 443.3L507.4 445.1A7.8 7.8 0 0 1 509.4 444.5L509.9 442.0L513.3 442.4L513.3 444.9A7.8 7.8 0 0 1 515.2 445.9L517.3 444.5L519.5 447.2L517.7 449.0A7.8 7.8 0 0 1 518.3 451.0Z" fill="#62c28d" stroke="#2f6a5c" stroke-width="1.3" stroke-linejoin="round"/><circle cx="510.6" cy="452.2" r="2.9" fill="#f4f6f8" stroke="#2f6a5c" stroke-width="1.3"/>
<path d="M533.4 435.4L538.8 440.2" stroke="#2c4a69" stroke-width="4.2"/>
<path d="M533.4 435.4L538.8 440.2" stroke="#dbe8f5" stroke-width="1.9"/>
<path d="M539.4 440.8L551.2 450.8" stroke="#2c4a69" stroke-width="9.6" stroke-linecap="round"/>
<path d="M539.4 440.8L551.2 450.8" stroke="#8dbcec" stroke-width="6.8" stroke-linecap="round"/>
<circle cx="519.7" cy="419.4" r="20.2" fill="#6cc596" stroke="#2c4a69" stroke-width="1.3"/>
<circle cx="519.7" cy="419.4" r="15.2" fill="#f4f6f8" stroke="#2c4a69" stroke-width="1.3"/>
<path d="M510.4 419.6L516.9 425.8L529 413.8" fill="none" stroke="#2c4a69" stroke-width="5.4" stroke-linecap="butt"/>
<path d="M510.4 419.6L516.9 425.8L529 413.8" fill="none" stroke="#62cb90" stroke-width="3.1" stroke-linecap="butt"/>
<g filter="url(#tglow)" opacity=".5" font-family="&quot;Liberation Sans&quot;,&quot;Noto Sans CJK JP&quot;,sans-serif" font-weight="700" fill="#ffffff" stroke="#ffffff" stroke-width="3" stroke-linejoin="round" paint-order="stroke">
<text x="452.1" y="341.2" font-size="23.8">評価基準の</text>
<text x="441.5" y="370.2" font-size="23.4">アップデート</text>
</g>
<defs>
<radialGradient id="bulbg" cx="672.9" cy="252" r="30" gradientUnits="userSpaceOnUse"><stop offset="0" stop-color="#ffffff"/><stop offset=".66" stop-color="#f6fafd"/><stop offset=".84" stop-color="#dcebf8"/><stop offset="1" stop-color="#c2dbf1"/></radialGradient>
<linearGradient id="baseg" x1="659" y1="0" x2="688" y2="0" gradientUnits="userSpaceOnUse"><stop offset="0" stop-color="#b4cce3"/><stop offset=".5" stop-color="#96b5d4"/><stop offset="1" stop-color="#84a5c7"/></linearGradient>
<filter id="cshadow" x="-20%" y="-20%" width="140%" height="150%"><feGaussianBlur stdDeviation="3"/></filter>
</defs>
<g stroke="#5fc08a" stroke-width="1.7" stroke-linecap="round"><path d="M672.9 207.3V215.2M650.3 214.1L654.7 221.2M694.8 213.8L690.6 221.2M634.2 230.3L642.2 234.3M628.3 253.2H638.2M708.5 253.2H717.8"/></g>
<path d="M652.3 282.4L655.4 284.0L653.6 288.4L650.2 287.4A11.2 11.2 0 0 1 647.9 289.7L648.9 293.1L644.5 294.9L642.9 291.8A11.2 11.2 0 0 1 639.5 291.8L637.9 294.9L633.5 293.1L634.5 289.7A11.2 11.2 0 0 1 632.2 287.4L628.8 288.4L627.0 284.0L630.1 282.4A11.2 11.2 0 0 1 630.1 279.0L627.0 277.4L628.8 273.0L632.2 274.0A11.2 11.2 0 0 1 634.5 271.7L633.5 268.3L637.9 266.5L639.5 269.6A11.2 11.2 0 0 1 642.9 269.6L644.5 266.5L648.9 268.3L647.9 271.7A11.2 11.2 0 0 1 650.2 274.0L653.6 273.0L655.4 277.4L652.3 279.0A11.2 11.2 0 0 1 652.3 282.4Z" fill="#5fbf8a" stroke="#2c4a69" stroke-width="1.3" stroke-linejoin="round"/><circle cx="641.2" cy="280.7" r="5.7" fill="#f4f6f8" stroke="#2c4a69" stroke-width="1.3"/>
<path d="M715.0 278.5L717.6 279.8L716.1 283.3L713.4 282.4A8.8 8.8 0 0 1 711.5 284.3L712.4 287.0L708.9 288.5L707.6 285.9A8.8 8.8 0 0 1 705.0 285.9L703.7 288.5L700.2 287.0L701.1 284.3A8.8 8.8 0 0 1 699.2 282.4L696.5 283.3L695.0 279.8L697.6 278.5A8.8 8.8 0 0 1 697.6 275.9L695.0 274.6L696.5 271.1L699.2 272.0A8.8 8.8 0 0 1 701.1 270.1L700.2 267.4L703.7 265.9L705.0 268.5A8.8 8.8 0 0 1 707.6 268.5L708.9 265.9L712.4 267.4L711.5 270.1A8.8 8.8 0 0 1 713.4 272.0L716.1 271.1L717.6 274.6L715.0 275.9A8.8 8.8 0 0 1 715.0 278.5Z" fill="#5fbf8a" stroke="#2c4a69" stroke-width="1.3" stroke-linejoin="round"/><circle cx="706.3" cy="277.2" r="4.1" fill="#f4f6f8" stroke="#2c4a69" stroke-width="1.3"/>
<path d="M660.2 292.4C659.8 284 655.6 279.8 651 274C645.6 267.4 643.2 260.6 643.2 253.2C643.2 236.8 656.4 223.6 672.9 223.6C689.4 223.6 702.6 236.8 702.6 253.2C702.6 260.6 700.2 267.4 694.8 274C690.2 279.8 686 284 685.6 292.4Z" fill="url(#bulbg)" stroke="#2c4a69" stroke-width="1.6" stroke-linejoin="round"/>
<path d="M666.4 309.6Q672.9 319.6 679.4 309.6Z" fill="#7c9cbd" stroke="#2c4a69" stroke-width="1.2" stroke-linejoin="round"/>
<rect x="659.6" y="292.2" width="26.6" height="6" rx="2.6" fill="url(#baseg)" stroke="#2c4a69" stroke-width="1.2"/>
<rect x="660.1" y="298.2" width="25.6" height="6" rx="2.6" fill="url(#baseg)" stroke="#2c4a69" stroke-width="1.2"/>
<rect x="660.6" y="304.2" width="24.6" height="6" rx="2.6" fill="url(#baseg)" stroke="#2c4a69" stroke-width="1.2"/>
<path d="M688.1 255.7L692.0 257.8L689.5 263.8L685.3 262.5A15.4 15.4 0 0 1 682.0 265.8L683.3 270.0L677.3 272.5L675.2 268.6A15.4 15.4 0 0 1 670.6 268.6L668.5 272.5L662.5 270.0L663.8 265.8A15.4 15.4 0 0 1 660.5 262.5L656.3 263.8L653.8 257.8L657.7 255.7A15.4 15.4 0 0 1 657.7 251.1L653.8 249.0L656.3 243.0L660.5 244.3A15.4 15.4 0 0 1 663.8 241.0L662.5 236.8L668.5 234.3L670.6 238.2A15.4 15.4 0 0 1 675.2 238.2L677.3 234.3L683.3 236.8L682.0 241.0A15.4 15.4 0 0 1 685.3 244.3L689.5 243.0L692.0 249.0L688.1 251.1A15.4 15.4 0 0 1 688.1 255.7Z" fill="#5fbf8a" stroke="#2c4a69" stroke-width="1.3" stroke-linejoin="round"/><circle cx="672.9" cy="253.4" r="9.8" fill="#f4f6f8" stroke="#2c4a69" stroke-width="1.3"/>
<circle cx="672.9" cy="253.4" r="6.2" fill="#5fbf8a" stroke="#2c4a69" stroke-width="1"/>
<circle cx="672.9" cy="253.4" r="2.4" fill="#c9ecd8"/>
<path d="M673.3 253L699.5 230.4" stroke="#2c4a69" stroke-width="2" stroke-linecap="round"/>
<path d="M698 231.8L702.4 220.6L708.2 217.4L707.6 223.2L713.4 222.4L710 227.4L715.6 227.8L710.2 233.6L698 231.8Z" fill="#4fae7c" stroke="#2c4a69" stroke-width="1.1" stroke-linejoin="round"/>
<path d="M699.4 230.6L710.6 222.6" stroke="#2c4a69" stroke-width="1"/>
<g transform="translate(615 335) scale(.17059)" stroke="#2c4a69" stroke-width="7.6" stroke-linejoin="round">
<path d="M190 210L252 103Q258 93 272 93H412Q420 93 426 101L470 163L495 146L460 246L350 222L384 206L338 136L276 260Z" fill="#62c18e"/>
<path d="M190 210L252 103Q258 93 272 93H306L338 136L276 260Z" fill="#50ae7e"/>
<path d="M212 266L247 362L218 350L178 438H310V525H185Q170 525 162 510L100 395Q95 383 100 372L128 302L105 289Z" fill="#62c18e"/>
<path d="M178 438H310V525H185Q170 525 162 510L150 487Z" fill="#50ae7e"/>
<path d="M350 478L415 400V437H490L520 400L575 368L578 392L525 510Q517 525 500 525H418V560Z" fill="#62c18e"/>
<path d="M490 437L520 400L575 368L578 392L548 458Z" fill="#50ae7e"/>
<path d="M320 270V260Q320 256 324 256H358Q362 256 362 260V270" fill="#dfe9f2" stroke-width="6"/>
<rect x="299" y="270" width="84" height="135" rx="9" fill="#f7f9fb" stroke-width="6.5"/>
<rect x="311" y="284" width="60" height="108" rx="3" fill="#7fd0a2" stroke="none"/>
<path d="M348 300L322 345H340L332 380L360 332H342Z" fill="#2f6f63" stroke="none"/>
<path d="M441 398Q424 330 470 284Q518 240 572 228Q592 300 560 350Q522 396 446 390Z" fill="#62c18e" stroke-width="6.5"/>
<path d="M443 402L548 272M478 358L470 318M478 358L525 352M510 318L504 285M510 318L548 312" fill="none" stroke-width="6" stroke-linecap="round"/>
</g>
<g fill="none" stroke="#34536f" stroke-width="1.9" stroke-linecap="round" stroke-linejoin="round">
<path d="M754.7 470.5Q790 441 827.6 470.6"/><path d="M820.6 470L828 471L827.6 463.4"/>
<path d="M849.1 472.4Q884 441 922.2 469.4"/><path d="M915.2 469.2L922.6 469.8L921.8 462.4"/>
<path d="M658.7 526.8Q692 557 733.6 528.4"/><path d="M726.6 527.2L734 528.2L733 535.6"/>
<path d="M754.7 526.8Q789 558 828.8 528.4"/><path d="M821.8 527.2L829.2 528.2L828.2 535.6"/>
</g>
<circle cx="652.7" cy="483.8" r="9.6" fill="#5fc08a" stroke="#2f4f66" stroke-width="1.4"/>
<path d="M648.5 484L651.5 487.2L657.1 480.4" fill="none" stroke="#fff" stroke-width="1.7" stroke-linecap="round" stroke-linejoin="round"/>
<circle cx="745.9" cy="483.8" r="9.6" fill="#5fc08a" stroke="#2f4f66" stroke-width="1.4"/>
<path d="M741.7 484L744.7 487.2L750.3 480.4" fill="none" stroke="#fff" stroke-width="1.7" stroke-linecap="round" stroke-linejoin="round"/>
<circle cx="841.2" cy="483.8" r="9.6" fill="#5fc08a" stroke="#2f4f66" stroke-width="1.4"/>
<path d="M837.0 484L840.0 487.2L845.6 480.4" fill="none" stroke="#fff" stroke-width="1.7" stroke-linecap="round" stroke-linejoin="round"/>
<circle cx="926.1" cy="483.8" r="9.6" fill="#5fc08a" stroke="#2f4f66" stroke-width="1.4"/>
<path d="M921.9 484L924.9 487.2L930.5 480.4" fill="none" stroke="#fff" stroke-width="1.7" stroke-linecap="round" stroke-linejoin="round"/>
<path d="M864.5 541H911L923 525.2L936.6 541H983.2Q993.2 541 993.2 551V604.2Q993.2 614.2 983.2 614.2H864.5Q854.5 614.2 854.5 604.2V551Q854.5 541 864.5 541Z" fill="#4a5a6a" opacity=".30" transform="translate(1.5 4)" filter="url(#cshadow)"/>
<path d="M864.5 541H911L923 525.2L936.6 541H983.2Q993.2 541 993.2 551V604.2Q993.2 614.2 983.2 614.2H864.5Q854.5 614.2 854.5 604.2V551Q854.5 541 864.5 541Z" fill="#fdfefd" stroke="#5cb988" stroke-width="3" stroke-linejoin="round"/>
<path d="M979.7 581.8Q982.3 597.8 998.3 600.4Q982.3 603 979.7 619.2Q977.1 603 961.1 600.4Q977.1 597.8 979.7 581.8Z" fill="#fff" opacity=".72"/>
</svg>
<div class="num" style="top:209.8px"></div>
<div class="num" style="top:285.4px"></div>
<div class="num" style="top:365.8px"></div>

<div class="t" style="left:214.9px;top:36.8px;font-size:54.0px;font-weight:700;width:596.0px;color:#2e2e30">思考を成果に変える技術</div>
<div class="t" style="left:175.3px;top:127.4px;font-size:15.0px;font-weight:700;width:122.0px;color:#1d2a3a">左側の思考エリア</div>
<div class="t" style="left:64.0px;top:160.8px;font-size:19.5px;font-weight:700;width:158.0px">行き詰まった思考</div>
<div class="t" style="left:222.2px;top:162.3px;font-size:17.8px;font-weight:700;width:197.8px">（要件に追われる状態）</div>
<div class="t" style="left:71.5px;top:516.8px;font-size:16.4px;font-weight:500;width:330.0px">要件に追われる状態：複雑な課題、期限の圧</div>
<div class="t" style="left:81.6px;top:537.6px;font-size:16.4px;font-weight:500;width:280.8px">力、不明確な優先順位で思考が停止。</div>
<div class="t" style="left:452.1px;top:320.3px;font-size:23.8px;font-weight:700;width:121.0px;color:#1b1d20">評価基準の</div>
<div class="t" style="left:441.5px;top:349.6px;font-size:23.4px;font-weight:700;width:142.4px;color:#1b1d20">アップデート</div>
<div class="t" style="left:714.0px;top:127.4px;font-size:15.0px;font-weight:700;width:152.0px;color:#15301f">右側のパネルタイトル</div>
<div class="t" style="left:659.0px;top:160.4px;font-size:20.0px;font-weight:700;width:262.0px">ブラッシュアップされた指針</div>
<div class="t" style="left:779.8px;top:214.7px;font-size:16.8px;font-weight:700;width:136.4px">明確なゴール設定</div>
<div class="t" style="left:780.0px;top:236.8px;font-size:15.0px;font-weight:500;width:167.0px">目的と成果物を具体的に</div>
<div class="t" style="left:780.0px;top:256.1px;font-size:15.0px;font-weight:500;width:137.0px">定義し、共有する。</div>
<div class="t" style="left:747.3px;top:214.8px;font-size:19.0px;font-weight:600;width:13.0px;color:#ffffff">1</div>
<div class="t" style="left:779.8px;top:289.7px;font-size:16.8px;font-weight:700;width:136.4px">プロセスの効率化</div>
<div class="t" style="left:780.0px;top:312.5px;font-size:15.0px;font-weight:500;width:167.0px">無駄を省き、最適な手順</div>
<div class="t" style="left:780.0px;top:331.4px;font-size:15.0px;font-weight:500;width:152.0px">とツールを選定する。</div>
<div class="t" style="left:747.3px;top:290.5px;font-size:19.0px;font-weight:600;width:13.0px;color:#ffffff">2</div>
<div class="t" style="left:779.8px;top:371.4px;font-size:16.8px;font-weight:700;width:119.6px">持続可能な設計</div>
<div class="t" style="left:780.0px;top:393.8px;font-size:15.0px;font-weight:500;width:167.0px">長期的な視点で、拡張性</div>
<div class="t" style="left:780.0px;top:413.3px;font-size:15.0px;font-weight:500;width:152.0px">と保守性を考慮する。</div>
<div class="t" style="left:747.3px;top:370.8px;font-size:19.0px;font-weight:600;width:13.0px;color:#ffffff">3</div>
<div class="t" style="left:638.2px;top:501.5px;font-size:14.8px;font-weight:700;width:31.6px">課題</div>
<div class="t" style="left:710.0px;top:501.5px;font-size:14.8px;font-weight:700;width:76.0px">整理・分析</div>
<div class="t" style="left:804.0px;top:501.5px;font-size:14.8px;font-weight:700;width:76.0px">計画・実行</div>
<div class="t" style="left:911.2px;top:501.5px;font-size:14.8px;font-weight:700;width:31.6px">成果</div>
<div class="t" style="left:870.2px;top:555.1px;font-size:21.5px;font-weight:700;width:109.5px;color:#1b1d20">品質の定義</div>
<div class="t" style="left:881.0px;top:581.6px;font-size:21.5px;font-weight:700;width:88.0px;color:#1b1d20">を見直す</div>
</div>
</body>
</html>
